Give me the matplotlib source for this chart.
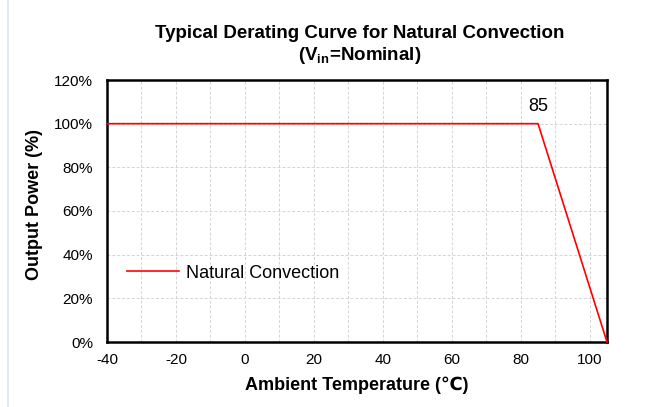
import matplotlib
matplotlib.use("Agg")
import matplotlib.pyplot as plt
from matplotlib.lines import Line2D
from matplotlib.ticker import MultipleLocator, PercentFormatter

plt.rcParams['font.family'] = ['Liberation Sans', 'DejaVu Sans']
plt.rcParams['mathtext.fontset'] = 'custom'
plt.rcParams['mathtext.rm'] = 'Liberation Sans'
plt.rcParams['mathtext.bf'] = 'Liberation Sans:bold'
plt.rcParams['axes.unicode_minus'] = False

# derating curve points
temps = [-40, 85, 105]
power = [100, 100, 0]
knee_label = "85"

W, H = 648, 407
fig = plt.figure(figsize=(6.48, 4.07), dpi=100)
# plot area: x 107..607 px, y 80..342 px
ax = fig.add_axes([107 / W, 1 - 342 / H, 500 / W, 262 / H])

ax.plot(temps, power, color="#ff0000", lw=1.2, label="Natural Convection",
        clip_on=False, zorder=3)

ax.set_xlim(-40, 105)
ax.set_ylim(0, 120)
ax.xaxis.set_major_locator(MultipleLocator(20))
ax.xaxis.set_minor_locator(MultipleLocator(10))
ax.yaxis.set_major_locator(MultipleLocator(20))
ax.yaxis.set_major_formatter(PercentFormatter(decimals=0))
ax.grid(True, which="both", axis="x", color="#d4d4d4", ls=(0, (3, 2)), lw=0.7)
ax.grid(True, which="major", axis="y", color="#d4d4d4", ls=(0, (3, 2)), lw=0.7)
ax.tick_params(which="both", length=0, labelsize=11)
ax.tick_params(axis="x", pad=8)
ax.tick_params(axis="y", pad=10)
for s in ax.spines.values():
    s.set_linewidth(1.8)
    s.set_color("black")

ax.annotate(knee_label, (temps[1], power[1]), xytext=(0, 12.5),
            textcoords="offset points", ha="center", va="center", fontsize=13)

ax.legend(loc="center left", bbox_to_anchor=(0.04, 0.263), frameon=False,
          fontsize=13, handlelength=2.9, handletextpad=0.35,
          borderpad=0, borderaxespad=0)

fig.text(357 / W, 1 - 385 / H, "Ambient Temperature (℃)",
         ha="center", va="center", fontsize=13, fontweight="bold")
fig.text(35 / W, 1 - 205 / H, "Output Power (%)", rotation=90,
         ha="center", va="center", fontsize=13, fontweight="bold")

fig.text(360 / W, 1 - 34 / H, "Typical Derating Curve for Natural Convection",
         ha="center", va="center", fontsize=13.5, fontweight="bold")
fig.text(360 / W, 1 - 55 / H, r"(V$_\mathbf{in}$=Nominal)",
         ha="center", va="center", fontsize=13.5, fontweight="bold")

fig.add_artist(Line2D([8 / W, 8 / W], [0.0, 1.0], color="#dbe6f2", lw=1.2))

fig.savefig("out.png", dpi=100)
